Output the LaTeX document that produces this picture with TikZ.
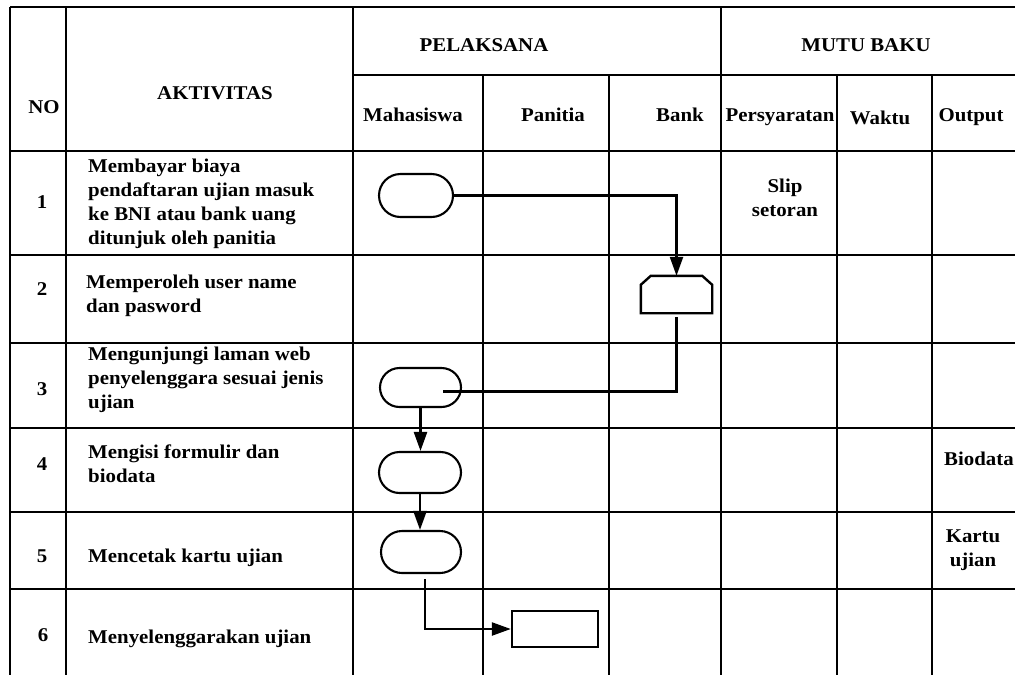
\documentclass[tikz,border=0pt]{standalone}
\usepackage{fontspec}
\setmainfont{Liberation Serif}[FakeStretch=1.07]
\usetikzlibrary{arrows.meta,shapes.misc}
\begin{document}
\begin{tikzpicture}[x=1pt,y=-1pt,
  grid/.style={line width=2pt},
  txt/.style={font=\fontsize{19.5}{23.7}\selectfont\bfseries, inner sep=0pt},
  act/.style={txt, align=left, anchor=base west},
  hd/.style={txt, anchor=base},
  hdc/.style={txt, anchor=base, align=center},
  term/.style={draw, line width=2.1pt, rounded rectangle, inner sep=0pt},
  box/.style={draw, line width=2.4pt, inner sep=0pt},
  flowline/.style={line width=2.4pt},
  arr/.style={line width=2.4pt, -{Triangle[length=19pt,width=13pt]}}
]
\useasboundingbox (0,0) rectangle (1015,675);
% table grid
\foreach \x in {10,66,353,721}{\draw[grid] (\x,7) -- (\x,675);}
\foreach \x in {483,609,837,932}{\draw[grid] (\x,75) -- (\x,675);}
\draw[grid] (10,7) -- (1015,7);
\draw[grid] (353,75) -- (1015,75);
\foreach \y in {151,255,343,428,512,589}{\draw[grid] (10,\y) -- (1015,\y);}
% header texts
\node[hd] (hNO) at (44,113) {NO};
\node[hd] (hAkt) at (215,99) {AKTIVITAS};
\node[hd] (hPel) at (484,51) {PELAKSANA};
\node[hd] (hMutu) at (866,51) {MUTU BAKU};
\node[hd] (hMhs) at (413,121) {Mahasiswa};
\node[hd] (hPan) at (553,121) {Panitia};
\node[hd] (hBank) at (680,121) {Bank};
\node[hd] (hPers) at (780,121) {Persyaratan};
\node[hd] (hWaktu) at (880,124) {Waktu};
\node[hd] (hOut) at (971,121) {Output};
% numbers
\node[hd] (n1) at (42,208) {1};
\node[hd] (n2) at (42,295) {2};
\node[hd] (n3) at (42,395) {3};
\node[hd] (n4) at (42,470) {4};
\node[hd] (n5) at (42,562) {5};
\node[hd] (n6) at (43,641) {6};
% activities (base = last line)
\node[act] (a1) at (88,244) {Membayar biaya\\pendaftaran ujian masuk\\ke BNI atau bank uang\\ditunjuk oleh panitia};
\node[act] (a2) at (86,312) {Memperoleh user name\\dan pasword};
\node[act] (a3) at (88,408) {Mengunjungi laman web\\penyelenggara sesuai jenis\\ujian};
\node[act] (a4) at (88,482) {Mengisi formulir dan\\biodata};
\node[act] (a5) at (88,562) {Mencetak kartu ujian};
\node[act] (a6) at (88,643) {Menyelenggarakan ujian};
% standards
\node[hdc] (slip) at (785,216) {Slip\\setoran};
\node[hd] (bio) at (979,465) {Biodata};
\node[hdc] (kartu) at (973,566) {Kartu\\ujian};
% flow shapes
\node[term, minimum width=74pt, minimum height=43pt] (t1) at (416,195.5) {};
\node[term, minimum width=81pt, minimum height=39pt] (t3) at (420.5,387.5) {};
\node[term, minimum width=82pt, minimum height=41pt] (t4) at (420,472.5) {};
\node[term, minimum width=80pt, minimum height=42pt] (t5) at (421,552) {};
\node[minimum width=71pt, minimum height=37pt, inner sep=0pt] (bank) at (676.5,294.5) {};
\draw[flowline] ([yshift=-9pt]bank.north west) -- ([xshift=10pt]bank.north west) -- ([xshift=-10pt]bank.north east) -- ([yshift=-9pt]bank.north east) -- (bank.south east) -- (bank.south west) -- cycle;
\node[box, minimum width=86pt, minimum height=36pt] (r6) at (555,629) {};
% connectors
\draw[arr] (t1.east) -| (bank.north);
\draw[flowline, shorten <=4pt] (bank.south) |- ([xshift=22.5pt,yshift=-4pt]t3.center);
\draw[arr] (t3.south) -- (t3.south |- t4.north);
\draw[arr] (t4.south) -- (t4.south |- t5.north);
\draw[arr, shorten <=5pt] ([xshift=4pt]t5.south) |- (r6.west);
\end{tikzpicture}
\end{document}
